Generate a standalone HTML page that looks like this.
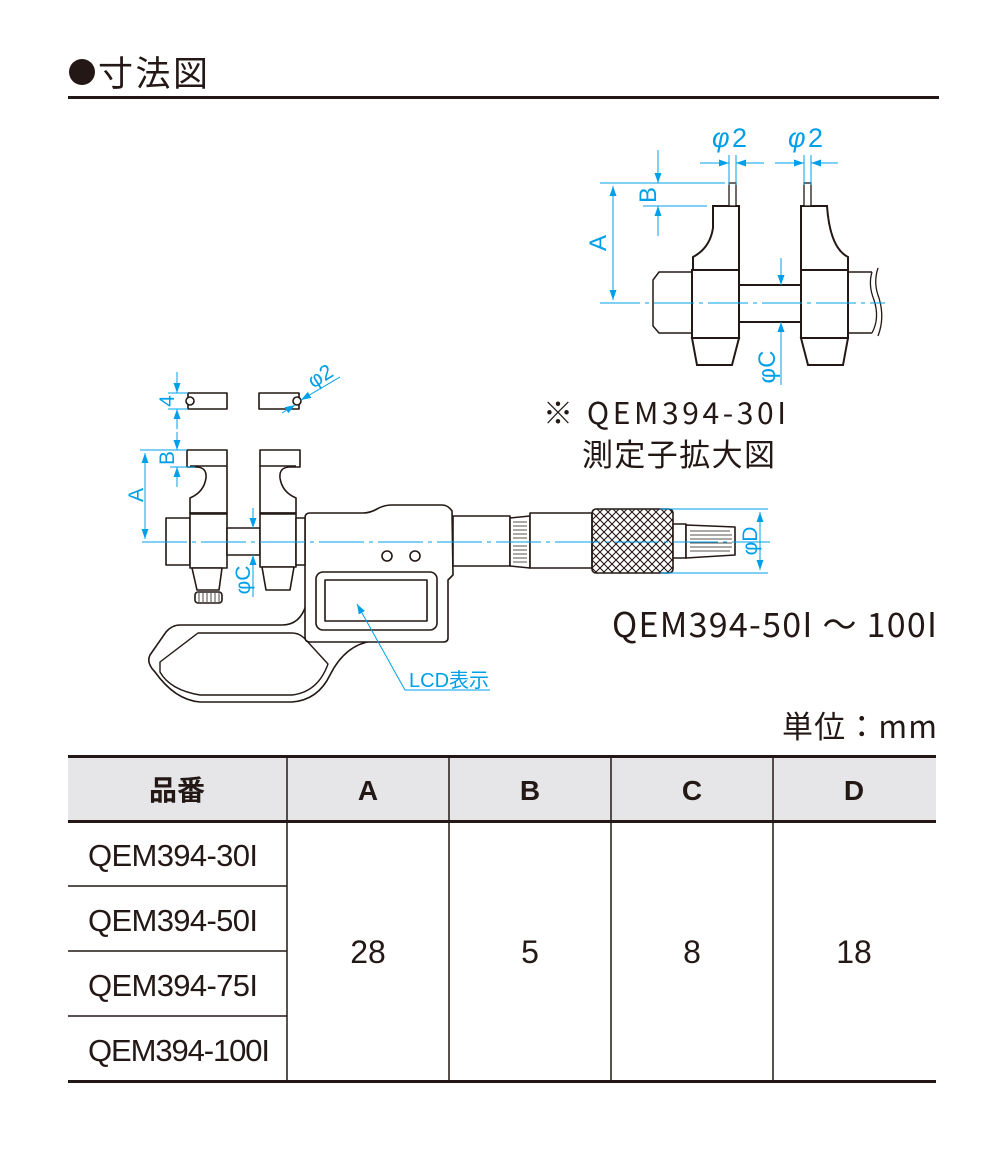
<!DOCTYPE html>
<html><head><meta charset="utf-8"><style>
html,body{margin:0;padding:0;background:#fff;}
body{width:1000px;height:1150px;position:relative;overflow:hidden;font-family:"Liberation Sans","Noto Sans CJK JP",sans-serif;color:#231815;}
svg{position:absolute;left:0;top:0;}
</style></head><body>
<svg width="1000" height="1150" viewBox="0 0 1000 1150" xmlns="http://www.w3.org/2000/svg">
<defs>
<marker id="ar" viewBox="0 0 10 10" refX="10" refY="5" markerWidth="10" markerHeight="10" orient="auto-start-reverse" markerUnits="userSpaceOnUse"><path d="M0,1.5 L10,5 L0,8.5 z" fill="#00a0e9"/></marker>
<pattern id="kn" width="8" height="8" patternUnits="userSpaceOnUse"><path d="M0,0 L8,8 M8,0 L0,8" stroke="#231815" stroke-width="1.1"/></pattern>
</defs>
<!-- title -->
<circle cx="82" cy="72" r="13" fill="#231815"/>
<text x="98" y="86" font-size="35" font-family="Noto Sans CJK JP,sans-serif" fill="#231815" textLength="110">寸法図</text>
<rect x="68" y="96" width="871" height="3" fill="#231815"/>

<!-- TOP RIGHT DETAIL -->
<g fill="#fff" stroke="#231815" stroke-width="2">
<path d="M692,272 L659,272 L653,280 L653,326 L659,333 L692,333" stroke-width="1.5"/>
<path d="M713,206 L739,206 L739,270 L693,270 L693,257 Q710,248 713,228 Z"/>
<rect x="692" y="270" width="47" height="68"/>
<path d="M692,338 L739,338 L732,365 L697,365 Z"/>
<rect x="729" y="183" width="7" height="23" stroke-width="1.3"/>
<rect x="739" y="285" width="62" height="37"/>
<path d="M801,206 L827,206 Q830,248 848,257 L848,270 L801,270 Z"/>
<rect x="801" y="270" width="47" height="68"/>
<path d="M801,338 L848,338 L843,365 L808,365 Z"/>
<rect x="804" y="183" width="7" height="23" stroke-width="1.3"/>
<path d="M848,272 L872,272 M848,333 L872,333" stroke-width="1.5"/>
<path d="M872,272 Q868,285 874,300 Q880,318 872,333 M878,268 Q873,283 879,298 Q885,318 878,336" fill="none" stroke-width="1.3"/>
</g>
<g stroke="#00a0e9" stroke-width="1" fill="none">
<path d="M600,303 L885,303" stroke-dasharray="40,5,4,5"/>
<path d="M600,183 L725,183 M643,206 L707,206"/>
<path d="M613,186 L613,300" marker-start="url(#ar)" marker-end="url(#ar)"/>
<path d="M658,150 L658,183" marker-end="url(#ar)"/>
<path d="M658,236 L658,206" marker-end="url(#ar)"/>
<path d="M729,155 L729,185 M736,155 L736,185 M804,155 L804,185 M811,155 L811,185"/>
<path d="M700,163 L729,163" marker-end="url(#ar)"/><path d="M764,163 L736,163" marker-end="url(#ar)"/>
<path d="M775,163 L804,163" marker-end="url(#ar)"/><path d="M838,163 L811,163" marker-end="url(#ar)"/>
<path d="M781,258 L781,285" marker-end="url(#ar)"/><path d="M781,385 L781,322" marker-end="url(#ar)"/>
</g>
<g fill="#00a0e9" font-size="27">
<text x="712" y="147" font-style="italic">φ</text><text x="732" y="147">2</text>
<text x="788" y="147" font-style="italic">φ</text><text x="808" y="147">2</text>
<text transform="translate(606,243) rotate(-90)" text-anchor="middle" font-size="24">A</text>
<text transform="translate(656,195) rotate(-90)" text-anchor="middle" font-size="24">B</text>
<text transform="translate(775,367) rotate(-90)" text-anchor="middle" font-size="24">φC</text>
</g>
<text x="543" y="424" font-size="30" font-family="Noto Sans CJK JP,sans-serif" fill="#231815" textLength="243">※ QEM394-30I</text>
<text x="582" y="466" font-size="31" font-family="Noto Sans CJK JP,sans-serif" fill="#231815" textLength="193">測定子拡大図</text>

<!-- MAIN MICROMETER -->
<g fill="#fff" stroke="#231815" stroke-width="1.6" stroke-linejoin="round">
<path d="M306,605 Q300,625 282,625 L180,625 Q172,625 166,632 L150,655 Q146,663 155,672 Q175,700 200,702 L292,702 Q318,700 330,675 Q345,645 372,641 L306,641 Z"/>
<path d="M198,633 L292,633 Q300,633 306,640 L328,664 Q318,692 292,695 L200,695 Q170,690 160,672 L160,662 Z" stroke-width="1.4"/>
<path d="M305,518 Q305,513 310,513 L363,513 Q370,513 377,509 Q384,505 392,505 L442,505 Q448,505 452,511 L453,575 L448,580 L448,638 Q448,642 443,642 L310,642 Q305,642 305,637 Z"/>
<rect x="316" y="572" width="121" height="58" rx="7"/>
<rect x="325" y="580" width="102" height="41"/>
<circle cx="387" cy="556" r="5"/><circle cx="415" cy="556" r="5"/>
<rect x="453" y="516" width="57" height="50"/>
<path d="M510,518 L530,516 L530,568 L510,566 Z"/>
<rect x="530" y="513" width="62" height="55"/>
<rect x="592" y="509" width="81" height="64" rx="4" fill="url(#kn)"/>
<rect x="673" y="524" width="13" height="34"/>
<path d="M686,525 L735,527 L735,555 L686,558 Z"/>
<rect x="166" y="518" width="24" height="47"/>
<path d="M187,450 L227,450 L227,513 L190,513 L190,498 Q204,492 206,478 Q207,467 196,467 L187,467 Z"/>
<rect x="190" y="513" width="37" height="55"/>
<path d="M192,568 L222,568 L219,590 L197,590 Z"/>
<rect x="195" y="592" width="27" height="11" rx="3"/>
<rect x="227" y="528" width="33" height="27"/>
<path d="M260,450 L300,450 L300,467 L290,467 Q279,467 280,478 Q282,492 296,498 L296,513 L260,513 Z"/>
<rect x="260" y="513" width="36" height="54"/>
<path d="M262,567 L294,567 L290,590 L266,590 Z"/>
<rect x="296" y="518" width="9" height="47"/>
<rect x="188" y="393" width="39" height="16"/>
<rect x="259" y="393" width="40" height="16"/>
<circle cx="190" cy="401" r="4"/><circle cx="297" cy="401" r="4"/>
</g>
<g stroke="#231815" stroke-width="0.8">
<path d="M513,522h14M513,526h14M513,530h14M513,534h14M513,538h14M513,542h14M513,546h14M513,550h14M513,554h14M513,558h14M513,562h14"/>
<path d="M690,531h40M690,535h42M690,539h42M690,543h42M690,547h42M690,551h40"/>
<path d="M199,593v9M203,593v9M207,593v9M211,593v9M215,593v9M219,593v9"/>
<path d="M190,466h37M260,466h36M190,514h37M260,514h36" stroke-width="1.6"/>
</g>
<g stroke="#00a0e9" stroke-width="1" fill="none">
<path d="M142,542 L770,542" stroke-dasharray="45,5,4,5"/>
<path d="M140,450 L187,450 M170,467 L195,467 M168,393 L188,393 M168,409 L188,409"/>
<path d="M145,453 L145,539" marker-start="url(#ar)" marker-end="url(#ar)"/>
<path d="M177,432 L177,450" marker-end="url(#ar)"/><path d="M177,487 L177,467" marker-end="url(#ar)"/>
<path d="M177,372 L177,393" marker-end="url(#ar)"/><path d="M177,429 L177,409" marker-end="url(#ar)"/>
<path d="M253,508 L253,528" marker-end="url(#ar)"/><path d="M253,597 L253,555" marker-end="url(#ar)"/>
<path d="M282,413 L295,405" marker-end="url(#ar)"/>
<path d="M340,377 L301,400" marker-end="url(#ar)"/>
<path d="M660,509 L768,509 M660,573 L768,573"/>
<path d="M760,512 L760,570" marker-start="url(#ar)" marker-end="url(#ar)"/>
<path d="M490,690 L405,690 L357,604" marker-end="url(#ar)"/>
</g>
<g fill="#00a0e9" font-size="21">
<text transform="translate(143,495) rotate(-90)" text-anchor="middle">A</text>
<text transform="translate(174,458) rotate(-90)" text-anchor="middle">B</text>
<text transform="translate(174,401) rotate(-90)" text-anchor="middle">4</text>
<text transform="translate(250,580) rotate(-90)" text-anchor="middle">φC</text>
<text transform="translate(757,541) rotate(-90)" text-anchor="middle">φD</text>
<text transform="translate(324,382) rotate(-32)" text-anchor="middle">φ2</text>
<text x="409" y="687" font-size="20" textLength="80" font-family="Liberation Sans,Noto Sans CJK JP,sans-serif">LCD表示</text>
</g>
<text x="612" y="637" font-size="34" textLength="325" font-family="Noto Sans CJK JP,sans-serif" fill="#231815">QEM394-50I ～ 100I</text>
<text x="782" y="738" font-size="31" textLength="155" font-family="Noto Sans CJK JP,sans-serif" fill="#231815">単位：mm</text>

<!-- TABLE -->
<rect x="68" y="758" width="868" height="63" fill="#e6e6e8"/>
<rect x="68" y="755" width="868" height="3" fill="#231815"/>
<rect x="68" y="820" width="868" height="3" fill="#231815"/>
<rect x="68" y="1080" width="868" height="3" fill="#231815"/>
<g stroke="#231815" stroke-width="1.5">
<path d="M287,757 V1081 M449,757 V1081 M611,757 V1081 M773,757 V1081"/>
<path d="M68,886 H287 M68,951 H287 M68,1016 H287"/>
</g>
<g font-size="28" font-weight="bold" text-anchor="middle" fill="#231815">
<text x="177" y="800" font-family="Noto Sans CJK JP,sans-serif">品番</text>
<text x="368" y="800">A</text><text x="530" y="800">B</text><text x="692" y="800">C</text><text x="854" y="800">D</text>
</g>
<g font-size="31" fill="#231815">
<text x="88" y="866" textLength="170">QEM394-30I</text>
<text x="88" y="931" textLength="170">QEM394-50I</text>
<text x="88" y="996" textLength="170">QEM394-75I</text>
<text x="88" y="1061" textLength="182">QEM394-100I</text>
</g>
<g font-size="32" text-anchor="middle" fill="#231815">
<text x="368" y="963">28</text><text x="530" y="963">5</text><text x="692" y="963">8</text><text x="854" y="963">18</text>
</g>
</svg>
</body></html>
